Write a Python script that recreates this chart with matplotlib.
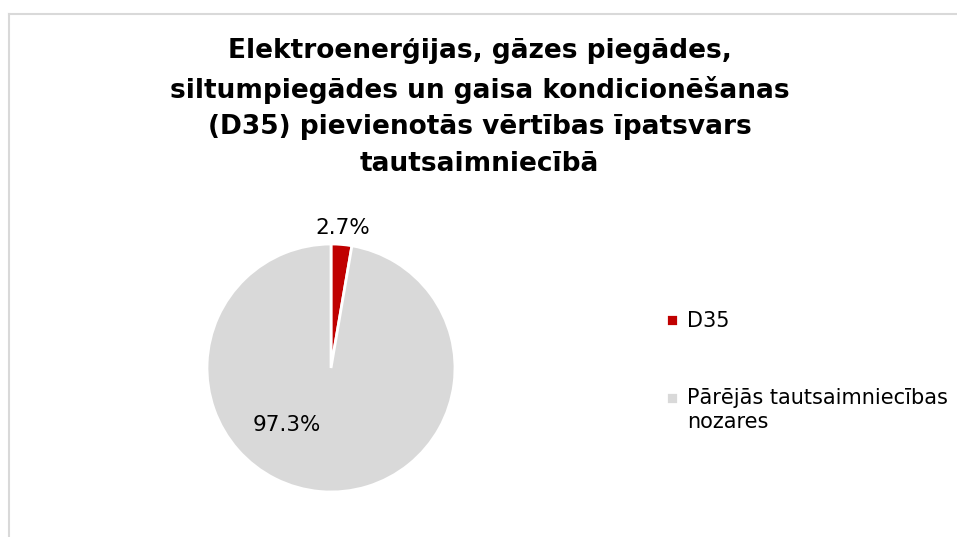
import matplotlib.pyplot as plt
from matplotlib.lines import Line2D
import numpy as np

# data
categories = ["D35", "Pārējās tautsaimniecības\nnozares"]
shares = [2.7, 97.3]
colors = ["#C00000", "#D9D9D9"]
title = ("Elektroenerģijas, gāzes piegādes,\n"
         "siltumpiegādes un gaisa kondicionēšanas\n"
         "(D35) pievienotās vērtības īpatsvars\n"
         "tautsaimniecībā")

plt.rcParams['font.family'] = ['DejaVu Sans']

W, H = 957, 537
fig = plt.figure(figsize=(W / 100, H / 100), dpi=100)

# chart area border (light grey, top and left visible)
fig.add_artist(Line2D([8.5 / W, 8.5 / W], [0, 1 - 13.5 / H], color="#D9D9D9", lw=1.5))
fig.add_artist(Line2D([8.5 / W, 1], [1 - 13.5 / H, 1 - 13.5 / H], color="#D9D9D9", lw=1.5))

fig.text(0.501, 1 - 38 / H, title, ha="center", va="top",
         fontsize=19, fontweight="bold", linespacing=1.53)

# pie axes: centre (331, 368) px, radius 124 px
cx, cy, r = 331, 368, 124
ax = fig.add_axes([(cx - r) / W, (H - cy - r) / H, 2 * r / W, 2 * r / H])
wedges, texts, autotexts = ax.pie(
    shares, colors=colors, startangle=90, counterclock=False,
    autopct="%.1f%%", pctdistance=1.13, radius=1,
    wedgeprops=dict(edgecolor="white", linewidth=2),
    textprops=dict(fontsize=15.5, color="black"))
ax.set_xlim(-1, 1)
ax.set_ylim(-1, 1)

# excel "best fit" position for the big slice label
ang = np.deg2rad(-127.7)
autotexts[1].set_position((0.58 * np.cos(ang), 0.58 * np.sin(ang)))
for t in autotexts:
    t.set_clip_on(False)

leg = fig.legend(wedges, categories, loc="upper left",
                 bbox_to_anchor=(658 / W, 1 - 303 / H), frameon=False,
                 fontsize=15, handlelength=0.55, handleheight=0.55,
                 handletextpad=0.45, labelspacing=2.7, borderaxespad=0)
for t in leg.get_texts():
    t.set_linespacing(1.3)
# align the marker of the two-line entry with its first line
h = leg.legend_handles[1]
h.set_y(h.get_y() + 9)

fig.savefig("out.png", dpi=100)
